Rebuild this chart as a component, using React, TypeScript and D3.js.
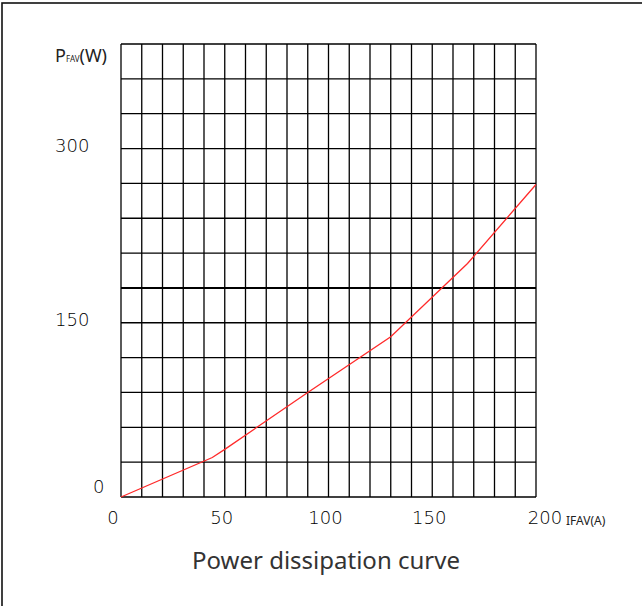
import * as d3 from "d3";

// Power dissipation curve: average forward current (A) vs power (W)
const currentA = [0, 44, 50, 90, 130, 167, 200];
const powerW = [0, 34, 41, 90, 138, 201, 269];

const xTicks = [0, 50, 100, 150, 200];
const yTicks = [0, 150, 300];
const xGridStep = 10;
const yGridStep = 30;
const xMax = 200;
const yMax = 390;

const title = "Power dissipation curve";
const xUnit = "IFAV(A)";

const W = 642;
const H = 606;

export default function App() {
  const x = d3.scaleLinear().domain([0, xMax]).range([121, 536]);
  const y = d3.scaleLinear().domain([0, yMax]).range([497, 44]);

  const xGrid = d3.range(0, xMax + 1, xGridStep);
  const yGrid = d3.range(0, yMax + 1, yGridStep);

  const points = currentA.map((a, i) => [a, powerW[i]] as [number, number]);
  const line = d3
    .line<[number, number]>()
    .x((d) => x(d[0]))
    .y((d) => y(d[1]));

  const font = "'Noto Sans', 'DejaVu Sans', sans-serif";
  const numFont = "'DejaVu Sans', sans-serif";

  return (
    <svg
      width={W}
      height={H}
      style={{ position: "absolute", left: 0, top: 0, background: "#fff" }}
    >
      {/* outer frame (only top and left edges fall inside the picture) */}
      <rect x={2} y={3} width={W + 10} height={H + 10} fill="#fff" stroke="#111" strokeWidth={1.6} />

      {/* grid */}
      <g stroke="#000">
        {xGrid.map((v) => (
          <line key={"vx" + v} x1={x(v)} x2={x(v)} y1={y(yMax)} y2={y(0)} strokeWidth={1.3} />
        ))}
        {yGrid.map((v) => (
          <line
            key={"hy" + v}
            x1={x(0)}
            x2={x(xMax)}
            y1={y(v)}
            y2={y(v)}
            strokeWidth={v === 180 ? 2 : 1.3}
          />
        ))}
      </g>

      {/* curve */}
      <path d={line(points) ?? ""} fill="none" stroke="#ff2a2a" strokeWidth={1.3} />

      {/* y tick labels */}
      <g fontFamily={numFont} fontWeight={200} fontSize={18} fill="#000">
        {yTicks.map((v) => (
          <text
            key={"yt" + v}
            x={v === 0 ? 93 : 55}
            y={y(v) - (v === 0 ? 10 : 3)}
            dy="0.35em"
          >
            {v}
          </text>
        ))}
      </g>

      {/* y axis title */}
      <text x={55} y={62} fontFamily={font} fill="#222">
        <tspan fontSize={18}>P</tspan>
        <tspan fontSize={8}>FAV</tspan>
        <tspan fontSize={18}>(W)</tspan>
      </text>

      {/* x tick labels */}
      <g fontFamily={numFont} fontWeight={200} fontSize={18} fill="#000" textAnchor="middle">
        {xTicks.map((v) => (
          <text
            key={"xt" + v}
            x={x(v) + (v === 0 ? -8 : v === xMax ? 9 : -3)}
            y={524}
          >
            {v}
          </text>
        ))}
      </g>
      <text x={566} y={525} fontFamily={font} fontSize={12} fill="#222">
        {xUnit}
      </text>

      {/* chart title */}
      <text
        x={326}
        y={569}
        textAnchor="middle"
        fontFamily={font}
        fontSize={24}
        fill="#333"
      >
        {title}
      </text>
    </svg>
  );
}
